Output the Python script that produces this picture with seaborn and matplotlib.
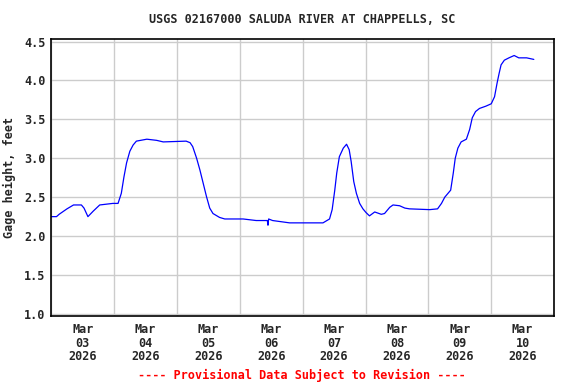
import matplotlib
matplotlib.use("Agg")
import matplotlib.pyplot as plt
import matplotlib.dates as mdates
import seaborn as sns
import pandas as pd

# Lecturas del hidrograma (hora local, altura en pies)
horas = [
    "2026-03-03 00:00", "2026-03-03 02:00", "2026-03-03 03:00", "2026-03-03 06:00",
    "2026-03-03 08:30", "2026-03-03 11:30", "2026-03-03 12:30", "2026-03-03 14:00",
    "2026-03-03 16:00", "2026-03-03 18:30", "2026-03-03 23:30", "2026-03-04 01:30",
    "2026-03-04 02:45", "2026-03-04 03:45", "2026-03-04 04:45", "2026-03-04 06:00",
    "2026-03-04 07:15", "2026-03-04 08:30", "2026-03-04 12:30", "2026-03-04 16:15",
    "2026-03-04 18:45", "2026-03-05 03:30", "2026-03-05 05:00", "2026-03-05 06:00",
    "2026-03-05 07:30", "2026-03-05 08:45", "2026-03-05 10:00", "2026-03-05 11:15",
    "2026-03-05 12:30", "2026-03-05 13:45", "2026-03-05 16:15", "2026-03-05 18:15",
    "2026-03-06 01:15", "2026-03-06 06:15", "2026-03-06 10:30", "2026-03-06 10:45",
    "2026-03-06 11:00", "2026-03-06 12:30", "2026-03-06 19:00", "2026-03-07 07:45",
    "2026-03-07 10:15", "2026-03-07 11:15", "2026-03-07 12:15", "2026-03-07 13:00",
    "2026-03-07 14:00", "2026-03-07 15:30", "2026-03-07 16:45", "2026-03-07 17:45",
    "2026-03-07 18:30", "2026-03-07 19:30", "2026-03-07 20:30", "2026-03-07 21:45",
    "2026-03-07 23:00", "2026-03-08 00:15", "2026-03-08 01:30", "2026-03-08 03:30",
    "2026-03-08 06:00", "2026-03-08 07:15", "2026-03-08 09:15", "2026-03-08 10:30",
    "2026-03-08 13:00", "2026-03-08 15:00", "2026-03-08 16:45", "2026-03-09 00:30",
    "2026-03-09 03:30", "2026-03-09 05:00", "2026-03-09 06:15", "2026-03-09 07:30",
    "2026-03-09 08:30", "2026-03-09 09:30", "2026-03-09 10:15", "2026-03-09 11:15",
    "2026-03-09 12:30", "2026-03-09 14:30", "2026-03-09 15:45", "2026-03-09 16:45",
    "2026-03-09 18:00", "2026-03-09 19:30", "2026-03-09 22:00", "2026-03-10 00:00",
    "2026-03-10 01:15", "2026-03-10 02:15", "2026-03-10 03:00", "2026-03-10 03:45",
    "2026-03-10 05:00", "2026-03-10 06:45", "2026-03-10 08:45", "2026-03-10 10:30",
    "2026-03-10 13:30", "2026-03-10 16:15",
]
altura = [
    2.25, 2.25, 2.28, 2.35,
    2.40, 2.40, 2.36, 2.25,
    2.32, 2.40, 2.42, 2.42,
    2.55, 2.76, 2.94, 3.09,
    3.17, 3.22, 3.245, 3.23,
    3.21, 3.22, 3.20, 3.15,
    3.00, 2.85, 2.68, 2.51,
    2.36, 2.29, 2.24, 2.22,
    2.22, 2.20, 2.20, 2.14,
    2.22, 2.20, 2.17, 2.17,
    2.22, 2.34, 2.59, 2.81,
    3.02, 3.13, 3.18, 3.11,
    2.96, 2.70, 2.55, 2.42,
    2.35, 2.30, 2.26, 2.31,
    2.28, 2.29, 2.37, 2.40,
    2.39, 2.36, 2.35, 2.34,
    2.35, 2.42, 2.50, 2.55,
    2.59, 2.81, 3.00, 3.13,
    3.21, 3.245, 3.37, 3.52,
    3.60, 3.64, 3.67, 3.70,
    3.79, 3.97, 4.09, 4.20,
    4.26, 4.29, 4.32, 4.29,
    4.29, 4.27,
]
yticks = [1.0, 1.5, 2.0, 2.5, 3.0, 3.5, 4.0, 4.5]

titulo = "USGS 02167000 SALUDA RIVER AT CHAPPELLS, SC"
etiqueta_y = "Gage height, feet"
aviso = "---- Provisional Data Subject to Revision ----"

df = pd.DataFrame({"tiempo": pd.to_datetime(horas), "altura": altura})

sns.set_style("white")
plt.rcParams["font.family"] = ["DejaVu Sans Mono"]
plt.rcParams["font.weight"] = "bold"

fig = plt.figure(figsize=(5.76, 3.84), dpi=100)
ax = fig.add_axes([0.089, 0.178, 0.873, 0.720])

sns.lineplot(data=df, x="tiempo", y="altura", color="#0000ff", linewidth=0.9, ax=ax)

ax.set_xlim(pd.Timestamp("2026-03-03"), pd.Timestamp("2026-03-11"))
ax.set_ylim(0.978, 4.53)
ax.set_yticks(yticks)
ax.set_yticklabels([f"{v:.1f}" for v in yticks], fontsize=8.5, fontweight="bold")

# Etiquetas al mediodía, rejilla a medianoche
ax.xaxis.set_major_locator(mdates.HourLocator(byhour=12))
ax.xaxis.set_major_formatter(mdates.DateFormatter("%b\n%d\n%Y"))
ax.xaxis.set_minor_locator(mdates.DayLocator())
for lab in ax.get_xticklabels():
    lab.set_fontsize(8.5)
    lab.set_fontweight("bold")
    lab.set_linespacing(1.05)

ax.grid(False)
ax.grid(True, axis="y", which="major", color="#cccccc", linewidth=1.0)
ax.grid(True, axis="x", which="minor", color="#cccccc", linewidth=1.0)
ax.tick_params(axis="both", which="both", length=0)
ax.tick_params(axis="x", which="major", pad=5.5)
ax.tick_params(axis="y", pad=4)

for s in ax.spines.values():
    s.set_color("black")
    s.set_linewidth(1.2)
    s.set_visible(True)

ax.set_xlabel("")
ax.set_ylabel(etiqueta_y, fontsize=8.5, fontweight="bold", labelpad=6)
fig.text(0.524, 0.95, titulo, ha="center", va="center", fontsize=8.5, fontweight="bold")
fig.text(0.524, 0.023, aviso, ha="center", va="center", fontsize=8.5,
         fontweight="bold", color="red")

fig.savefig("out.png", dpi=100)
